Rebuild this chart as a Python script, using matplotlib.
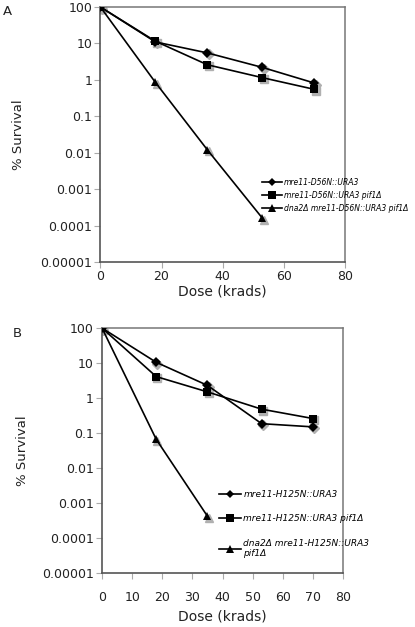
"""Survival curves for mre11 nuclease-dead alleles (panels A and B).

Two log-scale dose-response panels stacked vertically, saved as out.png.
"""
import matplotlib

matplotlib.use("Agg")
import matplotlib.pyplot as plt  # noqa: E402
from matplotlib.transforms import offset_copy  # noqa: E402

# panel A: mre11-D56N
dose_a = [0, 18, 35, 53, 70]
d56n = [100, 11, 5.5, 2.2, 0.82]
d56n_pif1 = [100, 11.5, 2.6, 1.15, 0.55]
dose_a_tri = [0, 18, 35, 53]
d56n_dna2_pif1 = [100, 0.85, 0.012, 0.00016]
labels_a = [
    "mre11-D56N::URA3",
    "mre11-D56N::URA3 pif1Δ",
    "dna2Δ mre11-D56N::URA3 pif1Δ",
]

# panel B: mre11-H125N
dose_b = [0, 18, 35, 53, 70]
h125n = [100, 10.5, 2.3, 0.185, 0.15]
h125n_pif1 = [100, 4.1, 1.5, 0.48, 0.26]
dose_b_tri = [0, 18, 35]
h125n_dna2_pif1 = [100, 0.066, 0.00042]
labels_b = [
    "mre11-H125N::URA3",
    "mre11-H125N::URA3 pif1Δ",
    "dna2Δ mre11-H125N::URA3\npif1Δ",
]

y_ticks = [1e-5, 1e-4, 1e-3, 1e-2, 1e-1, 1, 10, 100]
y_tick_labels = ["0.00001", "0.0001", "0.001", "0.01", "0.1", "1", "10", "100"]

MARKERS = [("D", 4.8), ("s", 6.2), ("^", 6.2)]
TICK_COLOR = "#aaaaaa"


def draw_panel(fig, ax, series, labels, xticks, xpad):
    for (xs, ys), (mk, ms), lab in zip(series, MARKERS, labels):
        shadow = offset_copy(ax.transData, fig=fig, x=1.2, y=-1.5, units="dots")
        ax.plot(xs, ys, ls="none", marker=mk, ms=ms, color="#b0b0b0",
                transform=shadow, zorder=2)
        ax.plot(xs, ys, color="black", lw=1.2, marker=mk, ms=ms,
                markeredgewidth=0, label=lab, zorder=3)

    ax.set_yscale("log")
    ax.set_ylim(1e-5, 100)
    ax.set_xlim(0, 80)
    ax.set_yticks(y_ticks)
    ax.set_yticklabels(y_tick_labels)
    ax.minorticks_off()
    ax.set_xticks(xticks)
    ax.tick_params(axis="both", direction="out", length=4, width=0.8,
                   color=TICK_COLOR, labelsize=9, labelcolor="#222222")
    ax.tick_params(axis="y", pad=2)
    ax.tick_params(axis="x", pad=xpad)
    for side in ("left", "bottom"):
        ax.spines[side].set_color("#555555")
        ax.spines[side].set_linewidth(1.2)
    for side in ("top", "right"):
        ax.spines[side].set_color("#777777")
        ax.spines[side].set_linewidth(1.1)
    ax.set_ylabel("% Survival", fontsize=9.5, color="#222222")


fig = plt.figure(figsize=(4.15, 6.27), dpi=100)

ax_a = fig.add_axes([0.242, 0.5821, 0.589, 0.4067])
draw_panel(fig, ax_a,
           [(dose_a, d56n), (dose_a, d56n_pif1), (dose_a_tri, d56n_dna2_pif1)],
           labels_a, [0, 20, 40, 60, 80], 2)
ax_a.set_xlabel("Dose (krads)", fontsize=10, color="#222222", labelpad=1)
ax_a.yaxis.set_label_coords(-0.31, 0.5)
ax_a.legend(loc="upper left", bbox_to_anchor=(0.623, 0.722),
            bbox_transform=fig.transFigure, frameon=False,
            prop={"style": "italic", "size": 5.5}, handlelength=2.6,
            handletextpad=0.25, labelspacing=0.5, borderpad=0,
            markerscale=0.9)

ax_b = fig.add_axes([0.2458, 0.0861, 0.5807, 0.3907])
draw_panel(fig, ax_b,
           [(dose_b, h125n), (dose_b, h125n_pif1), (dose_b_tri, h125n_dna2_pif1)],
           labels_b, [0, 10, 20, 30, 40, 50, 60, 70, 80], 9)
ax_b.set_xlabel("Dose (krads)", fontsize=10, color="#222222", labelpad=4)
ax_b.yaxis.set_label_coords(-0.305, 0.5)
ax_b.legend(loc="upper left", bbox_to_anchor=(0.518, 0.226),
            bbox_transform=fig.transFigure, frameon=False,
            prop={"style": "italic", "size": 6.5}, handlelength=2.4,
            handletextpad=0.25, labelspacing=1.7, borderpad=0,
            markerscale=0.9)

fig.text(0.008, 0.992, "A", fontsize=9.5, va="top", ha="left", color="#222222")
fig.text(0.03, 0.478, "B", fontsize=9.5, va="top", ha="left", color="#222222")

fig.savefig("out.png", dpi=100)
